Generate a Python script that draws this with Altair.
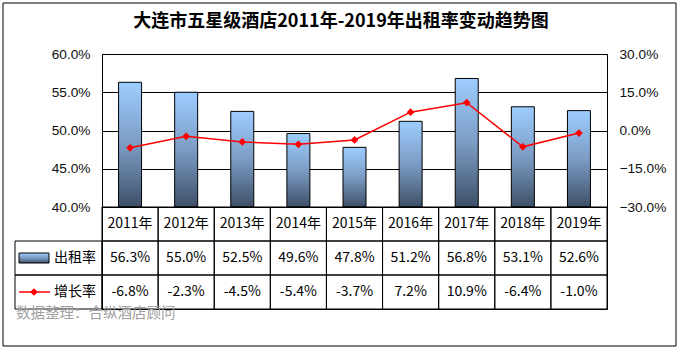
import altair as alt
import pandas as pd

# ---- data ----
years = ["2011年", "2012年", "2013年", "2014年", "2015年", "2016年", "2017年", "2018年", "2019年"]
occupancy = [56.3, 55.0, 52.5, 49.6, 47.8, 51.2, 56.8, 53.1, 52.6]
growth = [-6.8, -2.3, -4.5, -5.4, -3.7, 7.2, 10.9, -6.4, -1.0]
left_ticks = [40, 45, 50, 55, 60]
right_ticks = [-30, -15, 0, 15, 30]
row_names = ["年份", "出租率", "增长率"]
title_text = "大连市五星级酒店2011年-2019年出租率变动趋势图"
source_text = "数据整理：合纵酒店顾问"

df = pd.DataFrame({"year": years, "occ": occupancy, "growth": growth})

cells = []
for y, o, g in zip(years, occupancy, growth):
    cells.append({"row": "年份", "year": y, "label": y})
    cells.append({"row": "出租率", "year": y, "label": f"{o:.1f}%"})
    cells.append({"row": "增长率", "year": y, "label": f"{g:.1f}%"})
df_cells = pd.DataFrame(cells)
df_leg = pd.DataFrame({"row": ["出租率", "增长率"]})
one = pd.DataFrame({"k": [0]})

W, H = 505, 255
TOP_H = 153
CJK = "Noto Sans CJK SC"
LAT = "Liberation Sans"

grad = alt.Gradient(
    gradient="linear",
    stops=[alt.GradientStop(color="#9DCDFF", offset=0),
           alt.GradientStop(color="#7C9CC4", offset=0.5),
           alt.GradientStop(color="#3E5068", offset=1)],
    x1=0, x2=0, y1=0, y2=1,
)

x_enc = alt.X("year:N", scale=alt.Scale(domain=years, paddingInner=0, paddingOuter=0), axis=None)

bars = alt.Chart(df).mark_bar(width=23, fill=grad, stroke="black", strokeWidth=1).encode(
    x=x_enc,
    y=alt.Y("occ:Q",
            scale=alt.Scale(domain=[40, 60], range=[TOP_H, 0], zero=False, nice=False),
            axis=alt.Axis(orient="left", values=left_ticks,
                          labelExpr="format(datum.value, '.1f') + '%'",
                          grid=True, gridColor="black", gridWidth=1,
                          ticks=False, domain=False, labelPadding=12,
                          labelFont=LAT, labelFontSize=13.7, labelColor="#111",
                          title=None)),
    y2=alt.datum(40),
)

gy = alt.Y("growth:Q",
           scale=alt.Scale(domain=[-30, 30], range=[TOP_H, 0], nice=False),
           axis=alt.Axis(orient="right", values=right_ticks,
                         labelExpr="format(datum.value, '.1f') + '%'",
                         grid=False, ticks=False, domain=False, labelPadding=12,
                         labelFont=LAT, labelFontSize=13.7, labelColor="#111",
                         title=None))
gline = alt.Chart(df).mark_line(color="#FF0000", strokeWidth=1.5).encode(x=x_enc, y=gy)
gpts = alt.Chart(df).mark_point(shape="diamond", filled=True, color="#FF0000", size=60, opacity=1).encode(x=x_enc, y=gy)
growth_layer = alt.layer(gline, gpts)

ty = alt.Y("row:N", scale=alt.Scale(domain=row_names, range=[TOP_H, H], paddingInner=0, paddingOuter=0), axis=None)

cell_rect = alt.Chart(df_cells).mark_rect(fill="transparent", stroke="black", strokeWidth=1).encode(x=x_enc, y=ty)
cell_text = alt.Chart(df_cells).mark_text(font=CJK, fontSize=14, color="#000", baseline="middle").encode(
    x=x_enc, y=ty, text="label:N")
leg_box = alt.Chart(df_leg).mark_rect(fill="transparent", stroke="black", strokeWidth=1).encode(
    x=alt.value(-87), x2=alt.value(0), y=ty)
leg_text = alt.Chart(df_leg).mark_text(font=CJK, fontSize=14, color="#000", align="left", baseline="middle").encode(
    x=alt.value(-48), y=ty, text="row:N")
leg_bar = alt.Chart(df_leg[df_leg.row == "出租率"]).mark_bar(height=10, fill=grad, stroke="black", strokeWidth=1).encode(
    x=alt.value(-83), x2=alt.value(-53), y=ty)
leg_rule = alt.Chart(df_leg[df_leg.row == "增长率"]).mark_rule(color="#FF0000", strokeWidth=1.5).encode(
    x=alt.value(-83), x2=alt.value(-52), y=ty)
leg_pt = alt.Chart(df_leg[df_leg.row == "增长率"]).mark_point(shape="diamond", filled=True, color="#FF0000", size=60, opacity=1).encode(
    x=alt.value(-68), y=ty)
table_layer = alt.layer(cell_rect, cell_text, leg_box, leg_text, leg_bar, leg_rule, leg_pt)

title = alt.Chart(one).mark_text(text=title_text, font=CJK, fontSize=18, fontWeight="bold",
                                 color="#000", align="center", baseline="middle").encode(
    x=alt.value(239), y=alt.value(-32))
source = alt.Chart(one).mark_text(text=source_text, font=CJK, fontSize=14.5, color="#A0A0A0",
                                  align="left", baseline="middle").encode(
    x=alt.value(-86), y=alt.value(259.5))
border = alt.Chart(one).mark_rect(fill="transparent", stroke="black", strokeWidth=1).encode(
    x=alt.value(-99), x2=alt.value(574), y=alt.value(-51), y2=alt.value(292))
deco = alt.layer(border, title, source)

chart = alt.layer(bars, growth_layer, table_layer, deco).resolve_scale(y="independent").properties(
    width=W, height=H,
    padding={"left": 102, "top": 54, "right": 75, "bottom": 41},
    autosize=alt.AutoSizeParams(type="none"),
    background="white",
).configure_view(stroke="black", strokeWidth=1)

chart.save("out.html", embed_options={"renderer": "svg", "actions": False})
